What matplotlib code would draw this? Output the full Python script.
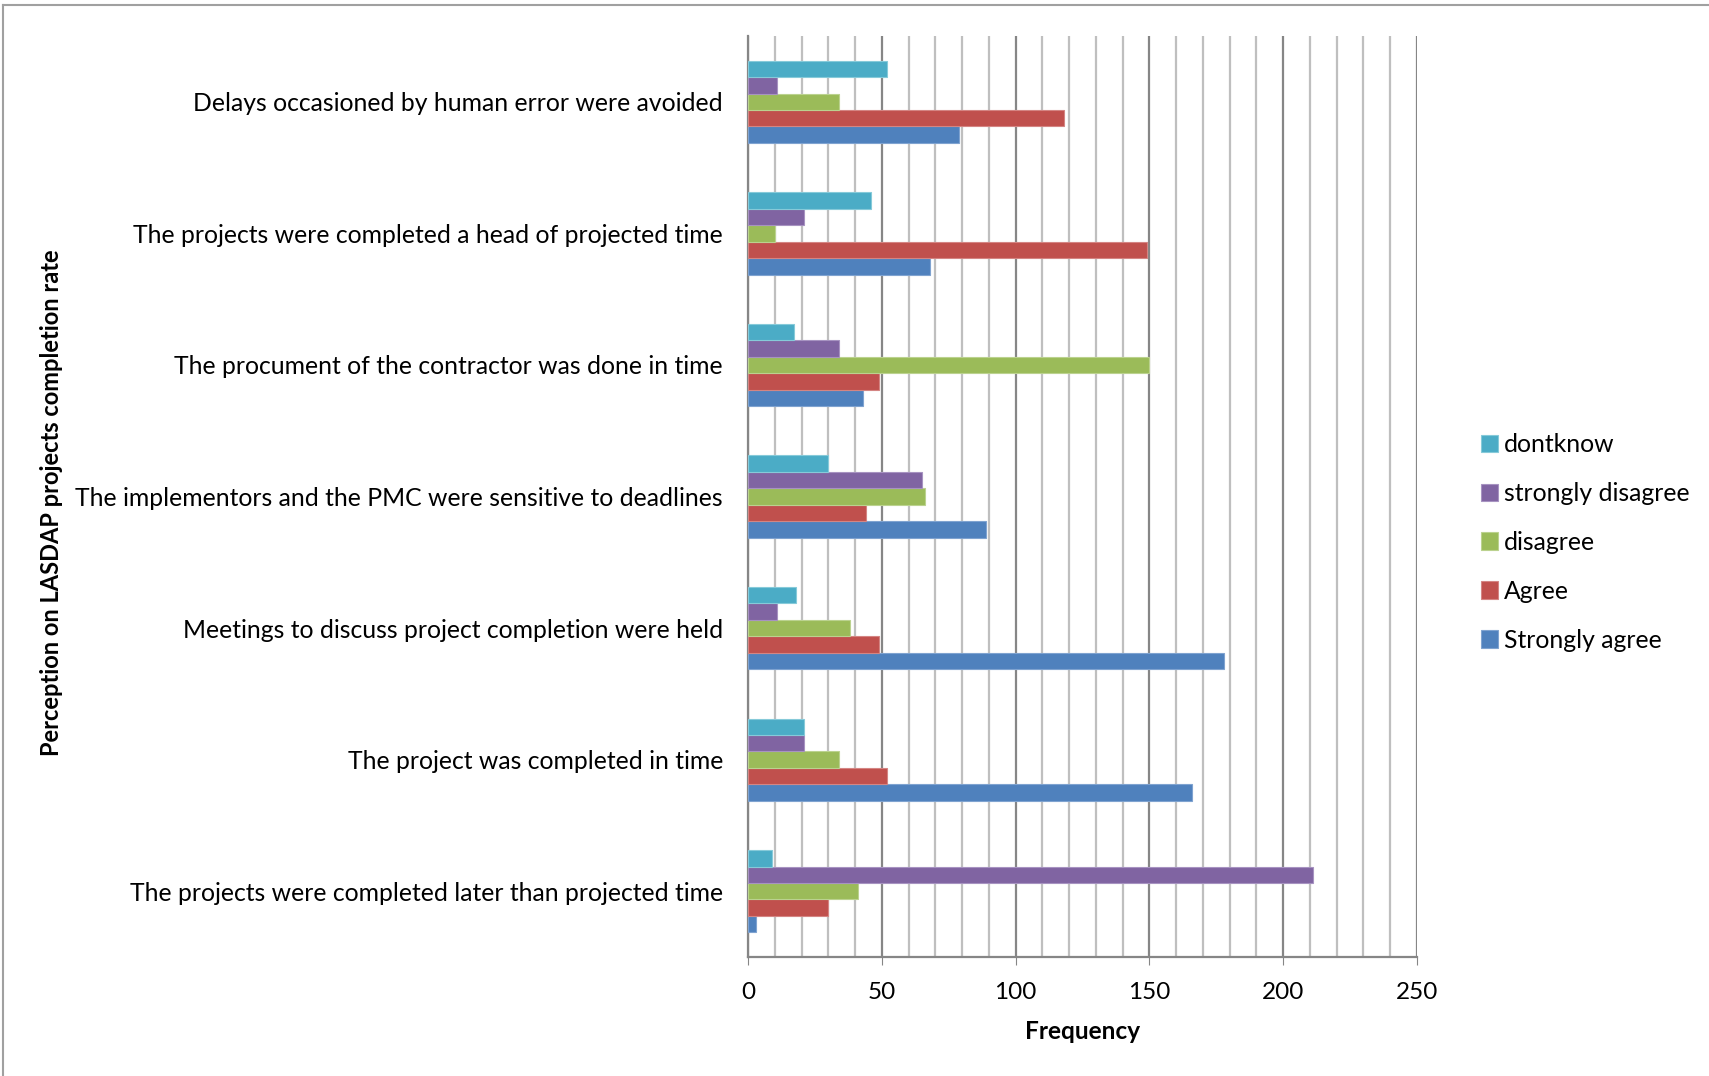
import matplotlib
matplotlib.use("Agg")
import matplotlib.pyplot as plt
import numpy as np
from matplotlib.ticker import MultipleLocator

# statements, top of the chart first
statements = [
    "Delays occasioned by human error were avoided",
    "The projects were completed a head of projected time",
    "The procument of the contractor was done in time",
    "The implementors and the PMC were sensitive to deadlines",
    "Meetings to discuss project completion were held",
    "The project was completed in time",
    "The projects were completed later than projected time",
]

# responses per statement (same order as statements)
strongly_agree = [79, 68, 43, 89, 178, 166, 3]
agree = [118, 149, 49, 44, 49, 52, 30]
disagree = [34, 10, 150, 66, 38, 34, 41]
strongly_disagree = [11, 21, 34, 65, 11, 21, 211]
dontknow = [52, 46, 17, 30, 18, 21, 9]

series_names = ["Strongly agree", "Agree", "disagree", "strongly disagree", "dontknow"]
series_vals = [strongly_agree, agree, disagree, strongly_disagree, dontknow]
colors = ["#4F81BD", "#C0504D", "#9BBB59", "#8064A2", "#4BACC6"]
edge_colors = ["#7FA3D0", "#D48583", "#BBD28F", "#A793C1", "#86CAD9"]

plt.rcParams['font.family'] = ['Lato', 'DejaVu Sans']

fig = plt.figure(figsize=(17.09, 10.76), dpi=100)
ax = fig.add_axes([0.4377, 0.1106, 0.3914, 0.8559])

n = len(statements)
ypos = np.arange(n)[::-1]  # first statement at top
h = 0.125

for k, (name, vals) in enumerate(zip(series_names, series_vals)):
    ax.barh(ypos + (k - 2) * h, vals, height=h, color=colors[k],
            edgecolor=edge_colors[k], linewidth=0.8, label=name, zorder=3)

ax.set_xlim(0, 250)
ax.set_ylim(-0.5, n - 0.5)
ax.set_yticks(ypos)
ax.set_yticklabels(statements, fontsize=17.8)
ax.xaxis.set_major_locator(MultipleLocator(50))
ax.xaxis.set_minor_locator(MultipleLocator(10))
ax.tick_params(axis='x', which='major', labelsize=17.5, length=6, color='#868686', pad=12)
ax.tick_params(axis='x', which='minor', length=0)
ax.tick_params(axis='y', length=0, pad=18)

ax.grid(axis='x', which='minor', color='#BFBFBF', linewidth=1.6, zorder=0)
ax.grid(axis='x', which='major', color='#868686', linewidth=1.6, zorder=0)

for s in ['top', 'right']:
    ax.spines[s].set_visible(False)
ax.spines['left'].set_color('#868686')
ax.spines['bottom'].set_color('#868686')
ax.spines['left'].set_linewidth(1.6)
ax.spines['bottom'].set_linewidth(1.6)

ax.set_xlabel("Frequency", fontsize=17.6, fontweight='bold', labelpad=12)
fig.text(0.030, 0.533, "Perception on LASDAP projects completion rate",
         rotation=90, fontsize=17, fontweight='bold', ha='center', va='center')

handles, labels = ax.get_legend_handles_labels()
leg = fig.legend(handles[::-1], labels[::-1], loc='center left',
                 bbox_to_anchor=(0.8535, 0.496), frameon=False, fontsize=17.8,
                 handlelength=0.7, handleheight=0.7, handletextpad=0.25,
                 labelspacing=1.05)

# frame lines of the original picture
fig.add_artist(plt.Line2D([0.002, 0.002], [0, 0.995], transform=fig.transFigure,
                          color='#A0A0A0', linewidth=1.5))
fig.add_artist(plt.Line2D([0.002, 1], [0.995, 0.995], transform=fig.transFigure,
                          color='#A0A0A0', linewidth=1.5))

fig.savefig("out.png", dpi=100)
